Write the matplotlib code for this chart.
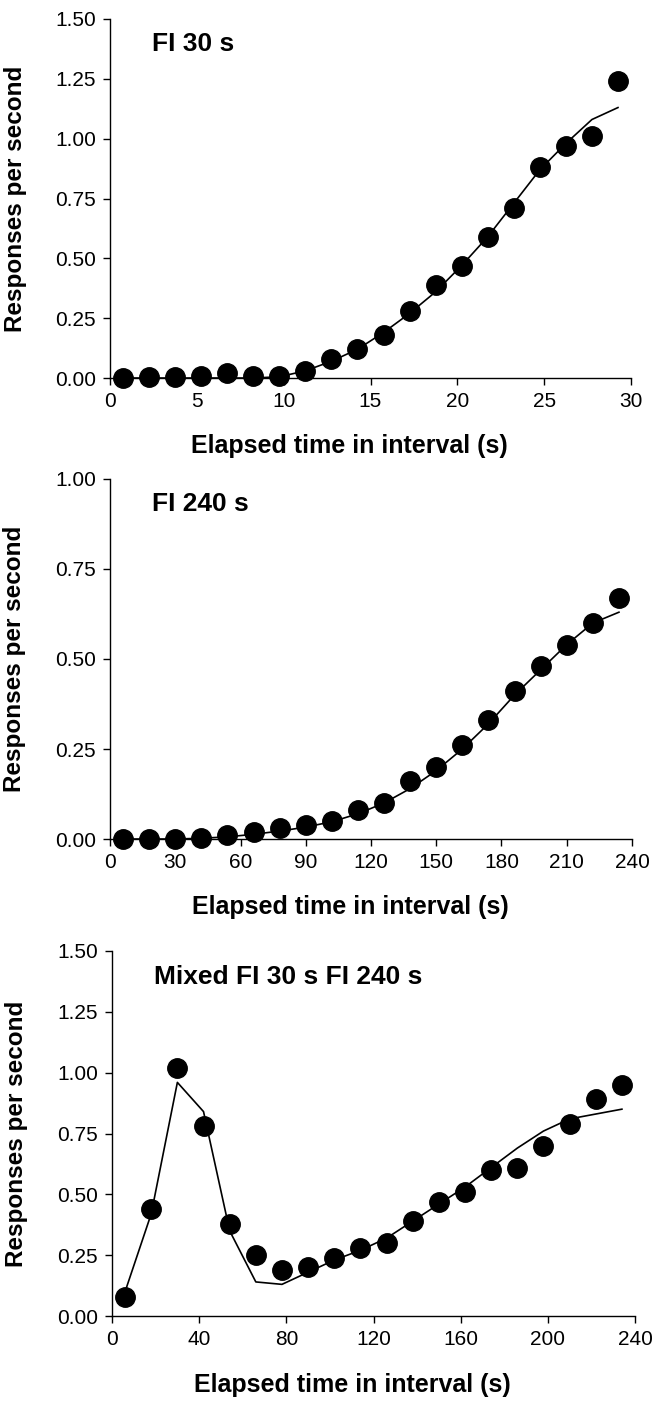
import matplotlib
matplotlib.use("Agg")
import matplotlib.pyplot as plt

plt.rcParams["font.family"] = ["Liberation Sans", "DejaVu Sans"]

# Panel 1: FI 30 s (1.5-s bins)
fi30_time = [0.75, 2.25, 3.75, 5.25, 6.75, 8.25, 9.75, 11.25, 12.75, 14.25,
             15.75, 17.25, 18.75, 20.25, 21.75, 23.25, 24.75, 26.25, 27.75, 29.25]
fi30_obs = [0.0, 0.003, 0.003, 0.01, 0.02, 0.01, 0.01, 0.03, 0.08, 0.12,
            0.18, 0.28, 0.39, 0.47, 0.59, 0.71, 0.88, 0.97, 1.01, 1.24]
fi30_fit = [0.0, 0.0, 0.0, 0.0, 0.0, 0.0, 0.005, 0.03, 0.07, 0.12,
            0.19, 0.27, 0.36, 0.47, 0.59, 0.73, 0.87, 0.98, 1.08, 1.13]

# Panel 2: FI 240 s (12-s bins)
fi240_time = [6, 18, 30, 42, 54, 66, 78, 90, 102, 114,
              126, 138, 150, 162, 174, 186, 198, 210, 222, 234]
fi240_obs = [0.0, 0.0, 0.0, 0.002, 0.01, 0.02, 0.03, 0.04, 0.05, 0.08,
             0.10, 0.16, 0.20, 0.26, 0.33, 0.41, 0.48, 0.54, 0.60, 0.67]
fi240_fit = [0.0, 0.0, 0.0, 0.002, 0.006, 0.013, 0.022, 0.033, 0.048, 0.07,
             0.10, 0.14, 0.19, 0.25, 0.32, 0.40, 0.47, 0.54, 0.60, 0.63]

# Panel 3: mixed FI 30 s FI 240 s (12-s bins)
mixed_time = fi240_time
mixed_obs = [0.08, 0.44, 1.02, 0.78, 0.38, 0.25, 0.19, 0.20, 0.24, 0.28,
             0.30, 0.39, 0.47, 0.51, 0.60, 0.61, 0.70, 0.79, 0.89, 0.95]
mixed_fit = [0.10, 0.42, 0.96, 0.84, 0.35, 0.14, 0.13, 0.18, 0.23, 0.27,
             0.32, 0.39, 0.46, 0.53, 0.61, 0.69, 0.76, 0.81, 0.83, 0.85]

panels = [
    ("FI 30 s", fi30_time, fi30_obs, fi30_fit,
     (0, 30), [0, 5, 10, 15, 20, 25, 30], (0, 1.5), [0, 0.25, 0.5, 0.75, 1.0, 1.25, 1.5]),
    ("FI 240 s", fi240_time, fi240_obs, fi240_fit,
     (0, 240), list(range(0, 241, 30)), (0, 1.0), [0, 0.25, 0.5, 0.75, 1.0]),
    ("Mixed FI 30 s FI 240 s", mixed_time, mixed_obs, mixed_fit,
     (0, 240), list(range(0, 241, 40)), (0, 1.5), [0, 0.25, 0.5, 0.75, 1.0, 1.25, 1.5]),
]

W, H = 652, 1401
# axes boxes in pixels: left, right, top, bottom
boxes = [(110, 631, 19, 378), (110, 632, 479, 839), (112, 635, 951, 1316)]

fig = plt.figure(figsize=(W / 100, H / 100), dpi=100)

for (title, t, obs, fit, xlim, xticks, ylim, yticks), (l, r, top, bot) in zip(panels, boxes):
    ax = fig.add_axes([l / W, 1 - bot / H, (r - l) / W, (bot - top) / H])
    ax.plot(t, fit, color="black", lw=1.2, zorder=2)
    ax.plot(t, obs, "o", color="black", ms=14, zorder=3, clip_on=False)
    ax.set_xlim(*xlim)
    ax.set_ylim(*ylim)
    ax.set_xticks(xticks)
    ax.set_yticks(yticks)
    ax.set_yticklabels([f"{v:.2f}" for v in yticks])
    ax.spines["top"].set_visible(False)
    ax.spines["right"].set_visible(False)
    ax.spines["left"].set_linewidth(1.0)
    ax.spines["bottom"].set_linewidth(1.0)
    ax.tick_params(direction="out", length=5, width=1, labelsize=15, pad=5)
    ax.set_xlabel("Elapsed time in interval (s)", fontsize=18, fontweight="bold")
    ax.set_ylabel("Responses per second", fontsize=17.5, fontweight="bold")
    ax.text(0.08, 0.93, title, transform=ax.transAxes, fontsize=19,
            fontweight="bold", va="center", ha="left")
    ax.yaxis.set_label_coords(-0.16, 0.5)
    ax.xaxis.set_label_coords(0.46, -0.155)

fig.savefig("out.png", dpi=100)
